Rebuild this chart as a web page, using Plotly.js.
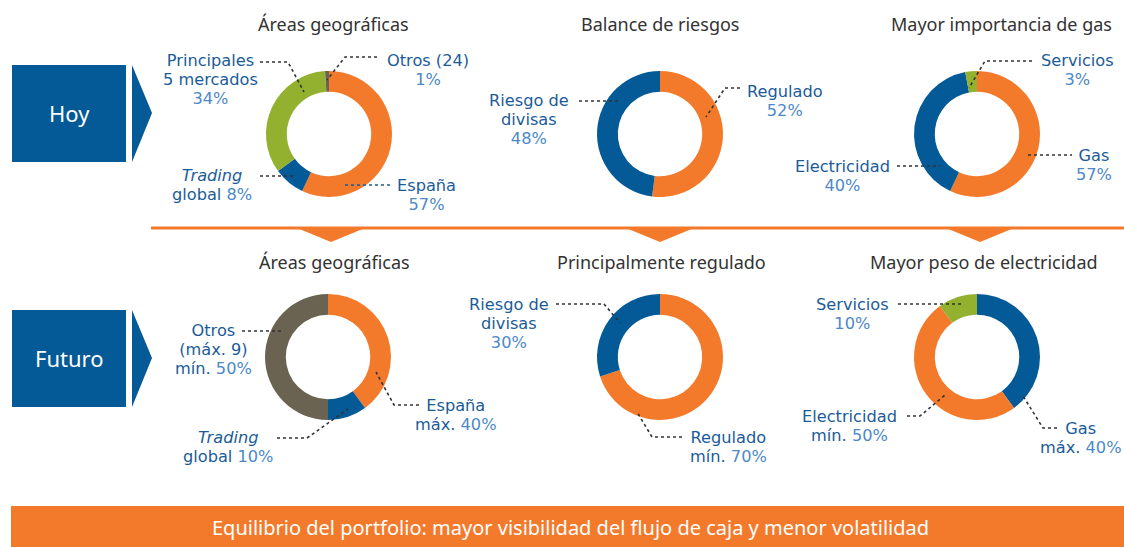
<!DOCTYPE html>
<html><head><meta charset="utf-8">
<script src="https://cdn.plot.ly/plotly-3.0.1.min.js"></script>
<style>html,body{margin:0;padding:0;background:#fff}#chart{width:1124px;height:547px}</style>
</head><body><div id="chart"></div>
<script>
// ---------- DATA ----------
const hoyGeoLabels = ['España', 'Trading global', 'Principales 5 mercados', 'Otros (24)'];
const hoyGeoValues = [57, 8, 34, 1];
const hoyRiskLabels = ['Regulado', 'Riesgo de divisas'];
const hoyRiskValues = [52, 48];
const hoyEnergyLabels = ['Gas', 'Electricidad', 'Servicios'];
const hoyEnergyValues = [57, 40, 3];
const futGeoLabels = ['España', 'Trading global', 'Otros (máx. 9)'];
const futGeoValues = [40, 10, 50];
const futRiskLabels = ['Regulado', 'Riesgo de divisas'];
const futRiskValues = [70, 30];
const futEnergyLabels = ['Gas', 'Electricidad', 'Servicios'];
const futEnergyValues = [40, 50, 10];
const chartTitles = ['Áreas geográficas', 'Balance de riesgos', 'Mayor importancia de gas',
                     'Áreas geográficas', 'Principalmente regulado', 'Mayor peso de electricidad'];
const rowLabels = ['Hoy', 'Futuro'];
const footerText = 'Equilibrio del portfolio: mayor visibilidad del flujo de caja y menor volatilidad';

// ---------- STYLE ----------
const W = 1124, H = 547;
const X = x => x / W, Y = y => 1 - y / H;
const ORANGE = '#f47a2b', BLUE = '#035a96', GREEN = '#93b02f', GREY = '#6a6352';
const DARK = '#1b5c98', LIGHT = '#4d89c6';
const FONT = 'Noto Sans, sans-serif';
const LFONT = 'DejaVu Sans, sans-serif';
const R = 63, HOLE = 0.67;
const LINE = 19;            // label line spacing (px)
const LSIZE = 16.2;         // label font size (px)

function pie(values, labels, colors, cx, cy) {
  return {
    type: 'pie', values: values, labels: labels, sort: false, direction: 'clockwise', rotation: 0,
    hole: HOLE, textinfo: 'none', hoverinfo: 'label+percent', showlegend: false,
    marker: {colors: colors, line: {width: 0}},
    domain: {x: [X(cx - R), X(cx + R)], y: [Y(cy + R), Y(cy - R)]}
  };
}

const centers = [[329, 134], [660, 134], [977, 134], [328, 357], [660, 357], [977, 357]];
const data = [
  pie(hoyGeoValues, hoyGeoLabels, [ORANGE, BLUE, GREEN, GREY], ...centers[0]),
  pie(hoyRiskValues, hoyRiskLabels, [ORANGE, BLUE], ...centers[1]),
  pie(hoyEnergyValues, hoyEnergyLabels, [ORANGE, BLUE, GREEN], ...centers[2]),
  pie(futGeoValues, futGeoLabels, [ORANGE, BLUE, GREY], ...centers[3]),
  pie(futRiskValues, futRiskLabels, [ORANGE, BLUE], ...centers[4]),
  pie(futEnergyValues, futEnergyLabels, [BLUE, ORANGE, GREEN], ...centers[5])
];

const ann = [], shapes = [];
function txt(x, y, text, size, color) {
  ann.push({xref: 'paper', yref: 'paper', x: X(x), y: Y(y), text: text, showarrow: false,
    xanchor: 'center', yanchor: 'middle', font: {family: FONT, size: size, color: color}});
}
// multi-line label: base font size sets the line spacing, inner spans set glyph size
function label(x, yFirst, lines) {
  const text = lines.map(l => '<span style="font-size:' + LSIZE + 'px">' + l + '</span>').join('<br>');
  ann.push({xref: 'paper', yref: 'paper', x: X(x), y: Y(yFirst + (lines.length - 1) * LINE / 2),
    text: text, showarrow: false, xanchor: 'center', yanchor: 'middle', align: 'center',
    font: {family: LFONT, size: LINE / 1.3, color: DARK}});
}
const pc = v => '<span style="color:' + LIGHT + '">' + v + '%</span>';
function leader(pts, color) {
  const p = 'M' + pts.map(q => X(q[0]) + ',' + Y(q[1])).join(' L');
  shapes.push({type: 'path', xref: 'paper', yref: 'paper', path: p,
    line: {color: color || '#333', width: 1.6, dash: 'dot'}});
}

// titles
const titlePos = [[333, 24], [660, 24], [1001, 24], [334, 262], [661, 262], [984, 262]];
chartTitles.forEach((t, i) => txt(titlePos[i][0], titlePos[i][1], t, 18, '#333'));

// row boxes
[[65, 162, 113], [310, 407, 358]].forEach((b, i) => {
  shapes.push({type: 'rect', xref: 'paper', yref: 'paper', x0: X(12), x1: X(126), y0: Y(b[1]), y1: Y(b[0]),
    fillcolor: BLUE, line: {width: 0}});
  shapes.push({type: 'path', xref: 'paper', yref: 'paper',
    path: 'M' + X(132) + ',' + Y(b[0]) + ' L' + X(152) + ',' + Y(b[2]) + ' L' + X(132) + ',' + Y(b[1]) + ' Z',
    fillcolor: BLUE, line: {width: 0}});
  txt(69, b[2], rowLabels[i], 22, '#fff');
});

// divider line with arrows
shapes.push({type: 'line', xref: 'paper', yref: 'paper', x0: X(151), x1: X(1124), y0: Y(228), y1: Y(228),
  line: {color: ORANGE, width: 3}});
[331, 660, 980].forEach(c => shapes.push({type: 'path', xref: 'paper', yref: 'paper',
  path: 'M' + X(c - 34) + ',' + Y(228) + ' L' + X(c) + ',' + Y(242) + ' L' + X(c + 34) + ',' + Y(228) + ' Z',
  fillcolor: ORANGE, line: {width: 0}}));

// footer bar
shapes.push({type: 'rect', xref: 'paper', yref: 'paper', x0: X(11), x1: X(1124), y0: Y(547), y1: Y(506),
  fillcolor: ORANGE, line: {width: 0}});
txt(570, 527, footerText, 20, '#fff');

// ---- labels: Hoy / Áreas geográficas
label(210, 61, ['Principales', '5 mercados', pc(hoyGeoValues[2])]);
leader([[260, 62], [288, 62], [304, 92]]);
label(428, 61, ['Otros (24)', pc(hoyGeoValues[3])]);
leader([[377, 57], [345, 57], [327, 80]]);
label(212, 176, ['<i>Trading</i>', 'global ' + pc(hoyGeoValues[1])]);
leader([[260, 176], [296, 176]]);
label(426, 185, ['España', pc(hoyGeoValues[0])]);
leader([[345, 185], [391, 185]], DARK);

// ---- Hoy / Balance de riesgos
label(529, 101, ['Riesgo de', 'divisas', pc(hoyRiskValues[1])]);
leader([[579, 101], [620, 101]]);
label(785, 91, ['Regulado', pc(hoyRiskValues[0])]);
leader([[740, 88], [725, 88], [706, 117]]);

// ---- Hoy / energía
label(1077, 61, ['Servicios', pc(hoyEnergyValues[2])]);
leader([[1032, 61], [985, 61], [969, 88]]);
label(1094, 155, ['Gas', pc(hoyEnergyValues[0])]);
leader([[1028, 155], [1072, 155]]);
label(842, 166, ['Electricidad', pc(hoyEnergyValues[1])]);
leader([[897, 166], [940, 166]]);

// ---- Futuro / Áreas geográficas
label(213, 330, ['Otros', '(máx. 9)', 'mín. ' + pc(futGeoValues[2])]);
leader([[242, 331], [283, 331]]);
label(456, 405, ['España', 'máx. ' + pc(futGeoValues[0])]);
leader([[419, 405], [394, 405], [376, 372]]);
label(228, 437, ['<i>Trading</i>', 'global ' + pc(futGeoValues[1])]);
leader([[277, 438], [307, 438], [348, 409]]);

// ---- Futuro / riesgos
label(509, 304, ['Riesgo de', 'divisas', pc(futRiskValues[1])]);
leader([[556, 304], [604, 304], [620, 323]]);
label(728, 437, ['Regulado', 'mín. ' + pc(futRiskValues[0])]);
leader([[682, 437], [652, 437], [637, 412]]);

// ---- Futuro / energía
label(852, 304, ['Servicios', pc(futEnergyValues[2])]);
leader([[898, 304], [962, 304]]);
label(849, 416, ['Electricidad', 'mín. ' + pc(futEnergyValues[1])]);
leader([[907, 416], [920, 416], [945, 395]]);
label(1081, 428, ['Gas', 'máx. ' + pc(futEnergyValues[0])]);
leader([[1057, 428], [1043, 428], [1023, 396]]);

const layout = {
  width: W, height: H, margin: {l: 0, r: 0, t: 0, b: 0},
  paper_bgcolor: '#fff', plot_bgcolor: '#fff', showlegend: false,
  font: {family: FONT}, annotations: ann, shapes: shapes
};
Plotly.newPlot('chart', data, layout, {displayModeBar: false, staticPlot: true});
</script></body></html>
